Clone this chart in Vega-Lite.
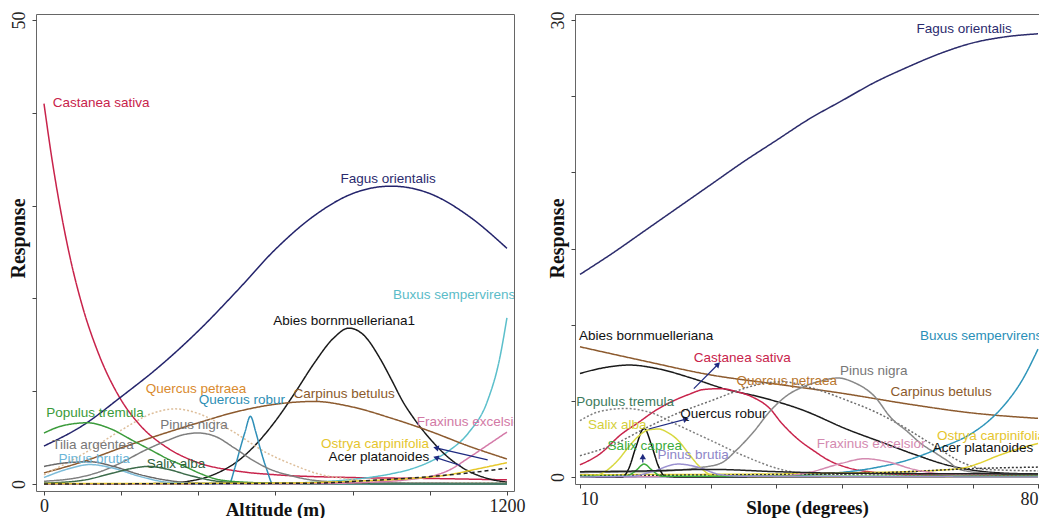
{
"$schema": "https://vega.github.io/schema/vega-lite/v6.json",
"background": "white",
"padding": {"left": 7, "top": 10, "right": 0, "bottom": 0},
"autosize": {"type": "pad"},
"bounds": "flush",
"spacing": 61,
"config": {
  "view": {"stroke": "#666", "strokeWidth": 1},
  "axis": {"grid": false, "domain": false, "tickColor": "#444", "tickSize": 4, "labelFont": "Liberation Serif", "labelFontSize": 18, "labelColor": "#222", "titleFont": "Liberation Serif", "titleFontSize": 20, "titleFontWeight": "bold", "titleColor": "#111"},
  "text": {"font": "Liberation Sans", "fontSize": 13.5}
},
"datasets": {
  "curves": [
{"p":"A","s":"Castanea sativa","x":0,"y":41},{"p":"A","s":"Castanea sativa","x":20,"y":35.2},{"p":"A","s":"Castanea sativa","x":40,"y":30.2},{"p":"A","s":"Castanea sativa","x":65,"y":24.9},{"p":"A","s":"Castanea sativa","x":100,"y":19.1},{"p":"A","s":"Castanea sativa","x":140,"y":14.2},{"p":"A","s":"Castanea sativa","x":195,"y":9.4},{"p":"A","s":"Castanea sativa","x":250,"y":6.3},{"p":"A","s":"Castanea sativa","x":320,"y":3.9},{"p":"A","s":"Castanea sativa","x":400,"y":2.3},{"p":"A","s":"Castanea sativa","x":500,"y":1.4},{"p":"A","s":"Castanea sativa","x":600,"y":1.0},{"p":"A","s":"Castanea sativa","x":800,"y":0.7},{"p":"A","s":"Castanea sativa","x":1000,"y":0.6},{"p":"A","s":"Castanea sativa","x":1200,"y":0.45},
{"p":"A","s":"Fagus orientalis","x":0,"y":4.1},{"p":"A","s":"Fagus orientalis","x":100,"y":6.3},{"p":"A","s":"Fagus orientalis","x":200,"y":9.4},{"p":"A","s":"Fagus orientalis","x":300,"y":12.7},{"p":"A","s":"Fagus orientalis","x":400,"y":16.5},{"p":"A","s":"Fagus orientalis","x":500,"y":20.8},{"p":"A","s":"Fagus orientalis","x":600,"y":25.3},{"p":"A","s":"Fagus orientalis","x":700,"y":28.9},{"p":"A","s":"Fagus orientalis","x":800,"y":31.3},{"p":"A","s":"Fagus orientalis","x":900,"y":32.1},{"p":"A","s":"Fagus orientalis","x":1000,"y":31.3},{"p":"A","s":"Fagus orientalis","x":1100,"y":28.9},{"p":"A","s":"Fagus orientalis","x":1200,"y":25.4},
{"p":"A","s":"Buxus sempervirens","x":0,"y":0.05},{"p":"A","s":"Buxus sempervirens","x":300,"y":0},{"p":"A","s":"Buxus sempervirens","x":600,"y":0.05},{"p":"A","s":"Buxus sempervirens","x":700,"y":0.2},{"p":"A","s":"Buxus sempervirens","x":800,"y":0.5},{"p":"A","s":"Buxus sempervirens","x":900,"y":1.1},{"p":"A","s":"Buxus sempervirens","x":950,"y":1.6},{"p":"A","s":"Buxus sempervirens","x":1000,"y":2.4},{"p":"A","s":"Buxus sempervirens","x":1050,"y":3.6},{"p":"A","s":"Buxus sempervirens","x":1100,"y":5.5},{"p":"A","s":"Buxus sempervirens","x":1150,"y":9.0},{"p":"A","s":"Buxus sempervirens","x":1180,"y":13.3},{"p":"A","s":"Buxus sempervirens","x":1200,"y":17.9},
{"p":"A","s":"Abies bornmuelleriana","x":0,"y":0},{"p":"A","s":"Abies bornmuelleriana","x":300,"y":0.05},{"p":"A","s":"Abies bornmuelleriana","x":400,"y":0.5},{"p":"A","s":"Abies bornmuelleriana","x":450,"y":1.2},{"p":"A","s":"Abies bornmuelleriana","x":500,"y":2.4},{"p":"A","s":"Abies bornmuelleriana","x":550,"y":4.3},{"p":"A","s":"Abies bornmuelleriana","x":600,"y":6.8},{"p":"A","s":"Abies bornmuelleriana","x":650,"y":9.8},{"p":"A","s":"Abies bornmuelleriana","x":700,"y":13},{"p":"A","s":"Abies bornmuelleriana","x":750,"y":15.7},{"p":"A","s":"Abies bornmuelleriana","x":790,"y":16.8},{"p":"A","s":"Abies bornmuelleriana","x":830,"y":16.0},{"p":"A","s":"Abies bornmuelleriana","x":870,"y":13.6},{"p":"A","s":"Abies bornmuelleriana","x":900,"y":11.3},{"p":"A","s":"Abies bornmuelleriana","x":930,"y":8.9},{"p":"A","s":"Abies bornmuelleriana","x":960,"y":7.0},{"p":"A","s":"Abies bornmuelleriana","x":1000,"y":4.9},{"p":"A","s":"Abies bornmuelleriana","x":1050,"y":2.8},{"p":"A","s":"Abies bornmuelleriana","x":1100,"y":1.4},{"p":"A","s":"Abies bornmuelleriana","x":1150,"y":0.6},{"p":"A","s":"Abies bornmuelleriana","x":1200,"y":0.2},
{"p":"A","s":"Carpinus betulus","x":0,"y":1.2},{"p":"A","s":"Carpinus betulus","x":100,"y":2.4},{"p":"A","s":"Carpinus betulus","x":200,"y":3.9},{"p":"A","s":"Carpinus betulus","x":300,"y":5.3},{"p":"A","s":"Carpinus betulus","x":400,"y":6.6},{"p":"A","s":"Carpinus betulus","x":500,"y":7.8},{"p":"A","s":"Carpinus betulus","x":600,"y":8.6},{"p":"A","s":"Carpinus betulus","x":700,"y":8.9},{"p":"A","s":"Carpinus betulus","x":800,"y":8.3},{"p":"A","s":"Carpinus betulus","x":900,"y":7.1},{"p":"A","s":"Carpinus betulus","x":1000,"y":5.7},{"p":"A","s":"Carpinus betulus","x":1100,"y":4.1},{"p":"A","s":"Carpinus betulus","x":1200,"y":2.7},
{"p":"A","s":"Quercus petraea","x":0,"y":1.0},{"p":"A","s":"Quercus petraea","x":100,"y":3.2},{"p":"A","s":"Quercus petraea","x":200,"y":5.8},{"p":"A","s":"Quercus petraea","x":280,"y":7.6},{"p":"A","s":"Quercus petraea","x":340,"y":8.1},{"p":"A","s":"Quercus petraea","x":400,"y":7.6},{"p":"A","s":"Quercus petraea","x":480,"y":5.9},{"p":"A","s":"Quercus petraea","x":580,"y":3.3},{"p":"A","s":"Quercus petraea","x":650,"y":2.0},{"p":"A","s":"Quercus petraea","x":710,"y":1.1},{"p":"A","s":"Quercus petraea","x":800,"y":0.5},{"p":"A","s":"Quercus petraea","x":900,"y":0.2},{"p":"A","s":"Quercus petraea","x":1000,"y":0.1},{"p":"A","s":"Quercus petraea","x":1200,"y":0.1},
{"p":"A","s":"Quercus robur","x":0,"y":0},{"p":"A","s":"Quercus robur","x":470,"y":0},{"p":"A","s":"Quercus robur","x":480,"y":0.02},{"p":"A","s":"Quercus robur","x":493,"y":1.5},{"p":"A","s":"Quercus robur","x":507,"y":3.6},{"p":"A","s":"Quercus robur","x":521,"y":5.6},{"p":"A","s":"Quercus robur","x":535,"y":7.3},{"p":"A","s":"Quercus robur","x":549,"y":5.6},{"p":"A","s":"Quercus robur","x":562,"y":3.6},{"p":"A","s":"Quercus robur","x":578,"y":1.5},{"p":"A","s":"Quercus robur","x":593,"y":0.02},{"p":"A","s":"Quercus robur","x":605,"y":0},{"p":"A","s":"Quercus robur","x":1200,"y":0},
{"p":"A","s":"Populus tremula","x":0,"y":5.5},{"p":"A","s":"Populus tremula","x":50,"y":6.3},{"p":"A","s":"Populus tremula","x":113,"y":6.6},{"p":"A","s":"Populus tremula","x":170,"y":6.0},{"p":"A","s":"Populus tremula","x":234,"y":4.6},{"p":"A","s":"Populus tremula","x":280,"y":3.6},{"p":"A","s":"Populus tremula","x":321,"y":2.7},{"p":"A","s":"Populus tremula","x":360,"y":2.0},{"p":"A","s":"Populus tremula","x":407,"y":1.1},{"p":"A","s":"Populus tremula","x":450,"y":0.5},{"p":"A","s":"Populus tremula","x":520,"y":0.2},{"p":"A","s":"Populus tremula","x":600,"y":0.1},{"p":"A","s":"Populus tremula","x":800,"y":0.05},{"p":"A","s":"Populus tremula","x":1200,"y":0.05},
{"p":"A","s":"Pinus nigra","x":0,"y":0.3},{"p":"A","s":"Pinus nigra","x":100,"y":0.8},{"p":"A","s":"Pinus nigra","x":150,"y":1.4},{"p":"A","s":"Pinus nigra","x":200,"y":2.3},{"p":"A","s":"Pinus nigra","x":260,"y":3.6},{"p":"A","s":"Pinus nigra","x":320,"y":4.7},{"p":"A","s":"Pinus nigra","x":360,"y":5.3},{"p":"A","s":"Pinus nigra","x":398,"y":5.5},{"p":"A","s":"Pinus nigra","x":440,"y":5.2},{"p":"A","s":"Pinus nigra","x":493,"y":3.9},{"p":"A","s":"Pinus nigra","x":540,"y":2.6},{"p":"A","s":"Pinus nigra","x":580,"y":1.7},{"p":"A","s":"Pinus nigra","x":640,"y":0.9},{"p":"A","s":"Pinus nigra","x":700,"y":0.4},{"p":"A","s":"Pinus nigra","x":800,"y":0.15},{"p":"A","s":"Pinus nigra","x":1200,"y":0.05},
{"p":"A","s":"Tilia argentea","x":0,"y":1.9},{"p":"A","s":"Tilia argentea","x":60,"y":2.3},{"p":"A","s":"Tilia argentea","x":120,"y":2.4},{"p":"A","s":"Tilia argentea","x":180,"y":1.9},{"p":"A","s":"Tilia argentea","x":250,"y":1.0},{"p":"A","s":"Tilia argentea","x":320,"y":0.4},{"p":"A","s":"Tilia argentea","x":400,"y":0.1},{"p":"A","s":"Tilia argentea","x":600,"y":0.05},{"p":"A","s":"Tilia argentea","x":1200,"y":0.05},
{"p":"A","s":"Pinus brutia","x":0,"y":0.7},{"p":"A","s":"Pinus brutia","x":60,"y":1.6},{"p":"A","s":"Pinus brutia","x":120,"y":2.1},{"p":"A","s":"Pinus brutia","x":180,"y":1.7},{"p":"A","s":"Pinus brutia","x":250,"y":0.8},{"p":"A","s":"Pinus brutia","x":320,"y":0.2},{"p":"A","s":"Pinus brutia","x":400,"y":0.05},{"p":"A","s":"Pinus brutia","x":1200,"y":0},
{"p":"A","s":"Salix alba","x":0,"y":0.1},{"p":"A","s":"Salix alba","x":100,"y":0.4},{"p":"A","s":"Salix alba","x":180,"y":1.2},{"p":"A","s":"Salix alba","x":230,"y":1.7},{"p":"A","s":"Salix alba","x":270,"y":1.9},{"p":"A","s":"Salix alba","x":320,"y":1.6},{"p":"A","s":"Salix alba","x":380,"y":0.9},{"p":"A","s":"Salix alba","x":450,"y":0.3},{"p":"A","s":"Salix alba","x":550,"y":0.05},{"p":"A","s":"Salix alba","x":1200,"y":0},
{"p":"A","s":"Fraxinus excelsior","x":0,"y":0},{"p":"A","s":"Fraxinus excelsior","x":700,"y":0.05},{"p":"A","s":"Fraxinus excelsior","x":850,"y":0.2},{"p":"A","s":"Fraxinus excelsior","x":950,"y":0.5},{"p":"A","s":"Fraxinus excelsior","x":1000,"y":0.8},{"p":"A","s":"Fraxinus excelsior","x":1050,"y":1.5},{"p":"A","s":"Fraxinus excelsior","x":1100,"y":2.8},{"p":"A","s":"Fraxinus excelsior","x":1150,"y":4.2},{"p":"A","s":"Fraxinus excelsior","x":1200,"y":5.6},
{"p":"A","s":"Ostrya carpinifolia","x":0,"y":0.05},{"p":"A","s":"Ostrya carpinifolia","x":600,"y":0.1},{"p":"A","s":"Ostrya carpinifolia","x":800,"y":0.3},{"p":"A","s":"Ostrya carpinifolia","x":950,"y":0.6},{"p":"A","s":"Ostrya carpinifolia","x":1050,"y":1.0},{"p":"A","s":"Ostrya carpinifolia","x":1120,"y":1.6},{"p":"A","s":"Ostrya carpinifolia","x":1200,"y":2.3},
{"p":"A","s":"Acer platanoides","x":0,"y":0},{"p":"A","s":"Acer platanoides","x":700,"y":0.1},{"p":"A","s":"Acer platanoides","x":850,"y":0.4},{"p":"A","s":"Acer platanoides","x":1000,"y":0.8},{"p":"A","s":"Acer platanoides","x":1100,"y":1.2},{"p":"A","s":"Acer platanoides","x":1200,"y":1.7},

{"p":"B","s":"Fagus orientalis","x":10,"y":13.3},{"p":"B","s":"Fagus orientalis","x":15,"y":14.7},{"p":"B","s":"Fagus orientalis","x":20,"y":16.2},{"p":"B","s":"Fagus orientalis","x":25,"y":17.7},{"p":"B","s":"Fagus orientalis","x":30,"y":19.2},{"p":"B","s":"Fagus orientalis","x":35,"y":20.7},{"p":"B","s":"Fagus orientalis","x":40,"y":22.1},{"p":"B","s":"Fagus orientalis","x":45,"y":23.5},{"p":"B","s":"Fagus orientalis","x":50,"y":24.7},{"p":"B","s":"Fagus orientalis","x":55,"y":25.9},{"p":"B","s":"Fagus orientalis","x":60,"y":26.9},{"p":"B","s":"Fagus orientalis","x":65,"y":27.8},{"p":"B","s":"Fagus orientalis","x":70,"y":28.5},{"p":"B","s":"Fagus orientalis","x":75,"y":28.9},{"p":"B","s":"Fagus orientalis","x":80,"y":29.1},
{"p":"B","s":"Carpinus betulus","x":10,"y":8.55},{"p":"B","s":"Carpinus betulus","x":20,"y":7.6},{"p":"B","s":"Carpinus betulus","x":30,"y":6.7},{"p":"B","s":"Carpinus betulus","x":40,"y":6.1},{"p":"B","s":"Carpinus betulus","x":50,"y":5.5},{"p":"B","s":"Carpinus betulus","x":60,"y":4.8},{"p":"B","s":"Carpinus betulus","x":70,"y":4.2},{"p":"B","s":"Carpinus betulus","x":80,"y":3.85},
{"p":"B","s":"Abies bornmuelleriana","x":10,"y":6.8},{"p":"B","s":"Abies bornmuelleriana","x":14,"y":7.2},{"p":"B","s":"Abies bornmuelleriana","x":17.5,"y":7.35},{"p":"B","s":"Abies bornmuelleriana","x":22,"y":7.1},{"p":"B","s":"Abies bornmuelleriana","x":27,"y":6.5},{"p":"B","s":"Abies bornmuelleriana","x":32,"y":5.8},{"p":"B","s":"Abies bornmuelleriana","x":38,"y":5.2},{"p":"B","s":"Abies bornmuelleriana","x":44,"y":4.4},{"p":"B","s":"Abies bornmuelleriana","x":51,"y":3.1},{"p":"B","s":"Abies bornmuelleriana","x":56,"y":2.3},{"p":"B","s":"Abies bornmuelleriana","x":61,"y":1.5},{"p":"B","s":"Abies bornmuelleriana","x":66,"y":0.8},{"p":"B","s":"Abies bornmuelleriana","x":70,"y":0.45},{"p":"B","s":"Abies bornmuelleriana","x":75,"y":0.25},{"p":"B","s":"Abies bornmuelleriana","x":80,"y":0.2},
{"p":"B","s":"Castanea sativa","x":10,"y":0.8},{"p":"B","s":"Castanea sativa","x":13,"y":1.5},{"p":"B","s":"Castanea sativa","x":16.3,"y":2.8},{"p":"B","s":"Castanea sativa","x":19,"y":3.6},{"p":"B","s":"Castanea sativa","x":21.3,"y":4.3},{"p":"B","s":"Castanea sativa","x":26.5,"y":5.4},{"p":"B","s":"Castanea sativa","x":29,"y":5.75},{"p":"B","s":"Castanea sativa","x":31.5,"y":5.8},{"p":"B","s":"Castanea sativa","x":34,"y":5.6},{"p":"B","s":"Castanea sativa","x":36.6,"y":5.2},{"p":"B","s":"Castanea sativa","x":39,"y":4.5},{"p":"B","s":"Castanea sativa","x":40.7,"y":3.6},{"p":"B","s":"Castanea sativa","x":43,"y":2.6},{"p":"B","s":"Castanea sativa","x":45.8,"y":1.7},{"p":"B","s":"Castanea sativa","x":48,"y":1.1},{"p":"B","s":"Castanea sativa","x":51,"y":0.6},{"p":"B","s":"Castanea sativa","x":55,"y":0.3},{"p":"B","s":"Castanea sativa","x":60,"y":0.15},{"p":"B","s":"Castanea sativa","x":80,"y":0.1},
{"p":"B","s":"Quercus petraea","x":10,"y":1.4},{"p":"B","s":"Quercus petraea","x":15,"y":2.1},{"p":"B","s":"Quercus petraea","x":20,"y":3.2},{"p":"B","s":"Quercus petraea","x":25,"y":4.2},{"p":"B","s":"Quercus petraea","x":30,"y":5.0},{"p":"B","s":"Quercus petraea","x":35,"y":5.8},{"p":"B","s":"Quercus petraea","x":38,"y":6.15},{"p":"B","s":"Quercus petraea","x":41,"y":6.25},{"p":"B","s":"Quercus petraea","x":45,"y":5.9},{"p":"B","s":"Quercus petraea","x":51,"y":5.0},{"p":"B","s":"Quercus petraea","x":55,"y":4.3},{"p":"B","s":"Quercus petraea","x":58.6,"y":3.5},{"p":"B","s":"Quercus petraea","x":63.6,"y":2.2},{"p":"B","s":"Quercus petraea","x":68.7,"y":0.9},{"p":"B","s":"Quercus petraea","x":72,"y":0.5},{"p":"B","s":"Quercus petraea","x":80,"y":0.4},
{"p":"B","s":"Populus tremula","x":10,"y":3.7},{"p":"B","s":"Populus tremula","x":13,"y":4.3},{"p":"B","s":"Populus tremula","x":17,"y":4.5},{"p":"B","s":"Populus tremula","x":21,"y":4.2},{"p":"B","s":"Populus tremula","x":25,"y":3.4},{"p":"B","s":"Populus tremula","x":30,"y":2.4},{"p":"B","s":"Populus tremula","x":35,"y":1.4},{"p":"B","s":"Populus tremula","x":40.7,"y":0.5},{"p":"B","s":"Populus tremula","x":45,"y":0.2},{"p":"B","s":"Populus tremula","x":80,"y":0.1},
{"p":"B","s":"Pinus nigra","x":10,"y":0.3},{"p":"B","s":"Pinus nigra","x":20,"y":0.35},{"p":"B","s":"Pinus nigra","x":25,"y":0.45},{"p":"B","s":"Pinus nigra","x":28,"y":0.6},{"p":"B","s":"Pinus nigra","x":31.5,"y":0.9},{"p":"B","s":"Pinus nigra","x":34,"y":1.8},{"p":"B","s":"Pinus nigra","x":36.6,"y":3.0},{"p":"B","s":"Pinus nigra","x":39,"y":4.3},{"p":"B","s":"Pinus nigra","x":41.8,"y":5.4},{"p":"B","s":"Pinus nigra","x":44,"y":5.9},{"p":"B","s":"Pinus nigra","x":46.8,"y":6.3},{"p":"B","s":"Pinus nigra","x":49.4,"y":6.5},{"p":"B","s":"Pinus nigra","x":51.9,"y":6.2},{"p":"B","s":"Pinus nigra","x":55,"y":5.3},{"p":"B","s":"Pinus nigra","x":57.5,"y":3.9},{"p":"B","s":"Pinus nigra","x":60,"y":3.0},{"p":"B","s":"Pinus nigra","x":62.1,"y":2.2},{"p":"B","s":"Pinus nigra","x":64.6,"y":1.5},{"p":"B","s":"Pinus nigra","x":66.2,"y":1.05},{"p":"B","s":"Pinus nigra","x":68,"y":0.5},{"p":"B","s":"Pinus nigra","x":72,"y":0.25},{"p":"B","s":"Pinus nigra","x":80,"y":0.15},
{"p":"B","s":"Buxus sempervirens","x":10,"y":0},{"p":"B","s":"Buxus sempervirens","x":40,"y":0.05},{"p":"B","s":"Buxus sempervirens","x":45,"y":0.15},{"p":"B","s":"Buxus sempervirens","x":50,"y":0.3},{"p":"B","s":"Buxus sempervirens","x":55,"y":0.6},{"p":"B","s":"Buxus sempervirens","x":60,"y":1.1},{"p":"B","s":"Buxus sempervirens","x":65,"y":1.9},{"p":"B","s":"Buxus sempervirens","x":70,"y":2.9},{"p":"B","s":"Buxus sempervirens","x":72.5,"y":3.7},{"p":"B","s":"Buxus sempervirens","x":75,"y":4.8},{"p":"B","s":"Buxus sempervirens","x":77.5,"y":6.3},{"p":"B","s":"Buxus sempervirens","x":80,"y":8.4},
{"p":"B","s":"Ostrya carpinifolia","x":10,"y":0.15},{"p":"B","s":"Ostrya carpinifolia","x":40,"y":0.2},{"p":"B","s":"Ostrya carpinifolia","x":55,"y":0.3},{"p":"B","s":"Ostrya carpinifolia","x":60,"y":0.35},{"p":"B","s":"Ostrya carpinifolia","x":65,"y":0.45},{"p":"B","s":"Ostrya carpinifolia","x":68.7,"y":0.6},{"p":"B","s":"Ostrya carpinifolia","x":71,"y":0.9},{"p":"B","s":"Ostrya carpinifolia","x":73.9,"y":1.4},{"p":"B","s":"Ostrya carpinifolia","x":77,"y":1.85},{"p":"B","s":"Ostrya carpinifolia","x":80,"y":2.2},
{"p":"B","s":"Acer platanoides","x":10,"y":0.1},{"p":"B","s":"Acer platanoides","x":50,"y":0.2},{"p":"B","s":"Acer platanoides","x":60,"y":0.35},{"p":"B","s":"Acer platanoides","x":70,"y":0.55},{"p":"B","s":"Acer platanoides","x":80,"y":0.65},
{"p":"B","s":"Fraxinus excelsior","x":10,"y":0},{"p":"B","s":"Fraxinus excelsior","x":40,"y":0.05},{"p":"B","s":"Fraxinus excelsior","x":45,"y":0.3},{"p":"B","s":"Fraxinus excelsior","x":50,"y":0.9},{"p":"B","s":"Fraxinus excelsior","x":53.5,"y":1.2},{"p":"B","s":"Fraxinus excelsior","x":57,"y":1.0},{"p":"B","s":"Fraxinus excelsior","x":61,"y":0.5},{"p":"B","s":"Fraxinus excelsior","x":65,"y":0.2},{"p":"B","s":"Fraxinus excelsior","x":70,"y":0.05},{"p":"B","s":"Fraxinus excelsior","x":80,"y":0},
{"p":"B","s":"Quercus robur","x":10,"y":0},{"p":"B","s":"Quercus robur","x":16.5,"y":0},{"p":"B","s":"Quercus robur","x":17.5,"y":0.6},{"p":"B","s":"Quercus robur","x":18.5,"y":1.9},{"p":"B","s":"Quercus robur","x":19.8,"y":3.2},{"p":"B","s":"Quercus robur","x":21,"y":2.0},{"p":"B","s":"Quercus robur","x":22,"y":0.7},{"p":"B","s":"Quercus robur","x":23,"y":0.05},{"p":"B","s":"Quercus robur","x":25,"y":0},{"p":"B","s":"Quercus robur","x":80,"y":0},
{"p":"B","s":"Salix alba","x":10,"y":0},{"p":"B","s":"Salix alba","x":12,"y":0.05},{"p":"B","s":"Salix alba","x":14,"y":0.4},{"p":"B","s":"Salix alba","x":16,"y":1.2},{"p":"B","s":"Salix alba","x":17.3,"y":1.9},{"p":"B","s":"Salix alba","x":19,"y":2.7},{"p":"B","s":"Salix alba","x":20.5,"y":3.1},{"p":"B","s":"Salix alba","x":22,"y":3.15},{"p":"B","s":"Salix alba","x":23.5,"y":2.9},{"p":"B","s":"Salix alba","x":25,"y":2.4},{"p":"B","s":"Salix alba","x":26.5,"y":1.6},{"p":"B","s":"Salix alba","x":27.5,"y":1.05},{"p":"B","s":"Salix alba","x":29,"y":0.4},{"p":"B","s":"Salix alba","x":30.5,"y":0.05},{"p":"B","s":"Salix alba","x":80,"y":0},
{"p":"B","s":"Salix caprea","x":10,"y":0.05},{"p":"B","s":"Salix caprea","x":17,"y":0.05},{"p":"B","s":"Salix caprea","x":18.5,"y":0.4},{"p":"B","s":"Salix caprea","x":19.8,"y":0.85},{"p":"B","s":"Salix caprea","x":21,"y":0.45},{"p":"B","s":"Salix caprea","x":22.5,"y":0.05},{"p":"B","s":"Salix caprea","x":80,"y":0.05},
{"p":"B","s":"Pinus brutia","x":10,"y":0},{"p":"B","s":"Pinus brutia","x":18,"y":0.05},{"p":"B","s":"Pinus brutia","x":21,"y":0.35},{"p":"B","s":"Pinus brutia","x":25,"y":0.85},{"p":"B","s":"Pinus brutia","x":28,"y":0.65},{"p":"B","s":"Pinus brutia","x":31.5,"y":0.15},{"p":"B","s":"Pinus brutia","x":35,"y":0.05},{"p":"B","s":"Pinus brutia","x":80,"y":0},
{"p":"B","s":"Tilia argentea","x":10,"y":0.35},{"p":"B","s":"Tilia argentea","x":20,"y":0.4},{"p":"B","s":"Tilia argentea","x":30,"y":0.5},{"p":"B","s":"Tilia argentea","x":40,"y":0.35},{"p":"B","s":"Tilia argentea","x":50,"y":0.25},{"p":"B","s":"Tilia argentea","x":80,"y":0.2}
  ],
  "labels": [
{"p":"A","t":"Castanea sativa","x":148,"y":41.1},
{"p":"A","t":"Fagus orientalis","x":892,"y":32.9},
{"p":"A","t":"Buxus sempervirens","x":1063,"y":20.4},
{"p":"A","t":"Abies bornmuelleriana1","x":778,"y":17.6},
{"p":"A","t":"Quercus petraea","x":394,"y":10.2},
{"p":"A","t":"Quercus robur","x":513,"y":9.05},
{"p":"A","t":"Carpinus betulus","x":778,"y":9.7},
{"p":"A","t":"Populus tremula","x":132,"y":7.65},
{"p":"A","t":"Pinus nigra","x":389,"y":6.36},
{"p":"A","t":"Fraxinus excelsior","x":1107,"y":6.68},
{"p":"A","t":"Tilia argentea","x":127,"y":4.2},
{"p":"A","t":"Ostrya carpinifolia","x":858,"y":4.31},
{"p":"A","t":"Pinus brutia","x":130,"y":2.69},
{"p":"A","t":"Salix alba","x":342,"y":2.16},
{"p":"A","t":"Acer platanoides","x":868,"y":2.91},
{"p":"B","t":"Fagus orientalis","x":68.7,"y":29.4},
{"p":"B","t":"Abies bornmuelleriana","x":20.1,"y":9.26},
{"p":"B","t":"Buxus sempervirens","x":71.3,"y":9.26},
{"p":"B","t":"Castanea sativa","x":34.8,"y":7.81},
{"p":"B","t":"Pinus nigra","x":54.9,"y":6.96},
{"p":"B","t":"Quercus petraea","x":41.6,"y":6.3},
{"p":"B","t":"Carpinus betulus","x":65.2,"y":5.58},
{"p":"B","t":"Populus tremula","x":16.9,"y":4.92},
{"p":"B","t":"Quercus robur","x":31.9,"y":4.14},
{"p":"B","t":"Salix alba","x":15.7,"y":3.41},
{"p":"B","t":"Ostrya carpinifolia","x":72.8,"y":2.69},
{"p":"B","t":"Salix caprea","x":19.9,"y":2.04},
{"p":"B","t":"Fraxinus excelsior","x":54.5,"y":2.17},
{"p":"B","t":"Acer platanoides","x":71.6,"y":1.9},
{"p":"B","t":"Pinus brutia","x":27.3,"y":1.44}
  ],
  "arrows": [
{"p":"A","x":1016,"y":3.9,"x1":1150,"y1":2.6},
{"p":"A","x":1016,"y":2.85,"x1":1080,"y1":2.0},
{"p":"B","x":31.1,"y":7.4,"x1":27.4,"y1":5.8},
{"p":"B","x":26.2,"y":3.8,"x1":20.5,"y1":3.15},
{"p":"B","x":19.6,"y":1.35,"x1":19.6,"y1":0.95}
  ]
},
"hconcat": [
{
  "width": 478, "height": 477,
  "encoding": {
    "x": {"field": "x", "type": "quantitative", "title": "Altitude (m)",
      "scale": {"domain": [-20.7, 1218.3], "nice": false, "zero": false},
      "axis": {"values": [0,200,400,600,800,1000,1200], "format": "d", "labelExpr": "datum.value == 0 || datum.value == 1200 ? datum.label : ''", "labelFlush": false, "labelPadding": 2, "titleBaseline": "top", "titleY": 9, "titleFontSize": 19}},
    "y": {"field": "y", "type": "quantitative", "title": "Response",
      "scale": {"domain": [-0.75, 50.65], "nice": false, "zero": false},
      "axis": {"values": [0,10,20,30,40,50], "labelExpr": "datum.value == 0 || datum.value == 50 ? datum.label : ''", "labelAngle": 270, "labelAlign": "center", "labelBaseline": "bottom", "labelPadding": 4, "labelFlush": false, "titleAngle": 270, "titleX": -18, "titleY": 224, "titleAlign": "center", "titleBaseline": "middle"}}
  },
  "layer": [
    {"data": {"name": "curves"}, "transform": [{"filter": "datum.p === 'A'"}],
     "mark": {"type": "line", "interpolate": "monotone", "strokeWidth": 1.5, "clip": true},
     "encoding": {
       "detail": {"field": "s"},
       "color": {"field": "s", "type": "nominal", "legend": null, "scale": {
         "domain": ["Castanea sativa","Fagus orientalis","Buxus sempervirens","Abies bornmuelleriana","Carpinus betulus","Quercus petraea","Quercus robur","Populus tremula","Pinus nigra","Tilia argentea","Pinus brutia","Salix alba","Fraxinus excelsior","Ostrya carpinifolia","Acer platanoides"],
         "range": ["#C8234B","#23236B","#5BBFCB","#1A1A1A","#8C5A2E","#DDBE9A","#2F8FB8","#3B9B3B","#7E7E7E","#6A6A6A","#7BBBD8","#3C6B4A","#D47AA8","#E6C82A","#222222"]}},
       "strokeDash": {"field": "s", "type": "nominal", "legend": null, "scale": {
         "domain": ["Castanea sativa","Fagus orientalis","Buxus sempervirens","Abies bornmuelleriana","Carpinus betulus","Quercus petraea","Quercus robur","Populus tremula","Pinus nigra","Tilia argentea","Pinus brutia","Salix alba","Fraxinus excelsior","Ostrya carpinifolia","Acer platanoides"],
         "range": [[1,0],[1,0],[1,0],[1,0],[1,0],[2,2],[1,0],[1,0],[1,0],[1,0],[1,0],[1,0],[1,0],[1,0],[4,3]]}}
     }},
    {"data": {"name": "arrows"}, "transform": [{"filter": "datum.p === 'A'"}],
     "mark": {"type": "rule", "color": "#1F2A80", "strokeWidth": 1.2},
     "encoding": {"x2": {"field": "x1"}, "y2": {"field": "y1"}}},
    {"data": {"name": "arrows"}, "transform": [{"filter": "datum.p === 'A'"}, {"calculate": "atan2((datum.x - datum.x1) * 0.3858, (datum.y - datum.y1) * 9.28) * 180 / PI", "as": "ang"}],
     "mark": {"type": "point", "shape": "triangle-up", "filled": true, "color": "#1F2A80", "size": 40, "opacity": 1},
     "encoding": {"angle": {"field": "ang", "type": "quantitative", "scale": null}}},
    {"data": {"name": "labels"}, "transform": [{"filter": "datum.p === 'A'"}],
     "mark": {"type": "text", "clip": true, "align": "center", "baseline": "middle"},
     "encoding": {
       "text": {"field": "t"},
       "color": {"field": "t", "type": "nominal", "legend": null, "scale": {
         "domain": ["Castanea sativa","Fagus orientalis","Buxus sempervirens","Abies bornmuelleriana1","Quercus petraea","Quercus robur","Carpinus betulus","Populus tremula","Pinus nigra","Fraxinus excelsior","Tilia argentea","Ostrya carpinifolia","Pinus brutia","Salix alba","Acer platanoides"],
         "range": ["#C8234B","#2B2B6E","#5BBCC8","#111111","#D98A2E","#2E8FB5","#8B5A2B","#3A9A3A","#777777","#D27AA5","#777777","#E5C52E","#6BB5D8","#2E5E3A","#111111"]}}
     }}
  ],
  "resolve": {"scale": {"color": "independent"}}
},
{
  "width": 464, "height": 470,
  "encoding": {
    "x": {"field": "x", "type": "quantitative", "title": "Slope (degrees)",
      "scale": {"domain": [9.24, 80.15], "nice": false, "zero": false},
      "axis": {"values": [10,20,30,40,50,60,70,80], "labelExpr": "datum.value == 10 || datum.value == 80 ? datum.label : ''", "labelFlush": 6, "labelPadding": 2, "titleBaseline": "top", "titleY": 14, "titleFontSize": 19}},
    "y": {"field": "y", "type": "quantitative", "title": "Response",
      "scale": {"domain": [-0.46, 30.4], "nice": false, "zero": false},
      "axis": {"values": [0,5,10,15,20,25,30], "labelExpr": "datum.value == 0 || datum.value == 30 ? datum.label : ''", "labelAngle": 270, "labelAlign": "center", "labelBaseline": "bottom", "labelPadding": 4, "labelFlush": false, "titleAngle": 270, "titleX": -18, "titleY": 224, "titleAlign": "center", "titleBaseline": "middle"}}
  },
  "layer": [
    {"data": {"name": "curves"}, "transform": [{"filter": "datum.p === 'B'"}],
     "mark": {"type": "line", "interpolate": "monotone", "strokeWidth": 1.5, "clip": true},
     "encoding": {
       "detail": {"field": "s"},
       "color": {"field": "s", "type": "nominal", "legend": null, "scale": {
         "domain": ["Fagus orientalis","Carpinus betulus","Abies bornmuelleriana","Castanea sativa","Quercus petraea","Populus tremula","Pinus nigra","Buxus sempervirens","Ostrya carpinifolia","Acer platanoides","Fraxinus excelsior","Quercus robur","Salix alba","Salix caprea","Pinus brutia","Tilia argentea"],
         "range": ["#2B2B6B","#8C5A2E","#1A1A1A","#C8234B","#6E6E6E","#808080","#888888","#2E95BA","#E0D030","#333333","#D48AB0","#111111","#D8D840","#3BAA3B","#9A90D0","#222222"]}},
       "strokeDash": {"field": "s", "type": "nominal", "legend": null, "scale": {
         "domain": ["Fagus orientalis","Carpinus betulus","Abies bornmuelleriana","Castanea sativa","Quercus petraea","Populus tremula","Pinus nigra","Buxus sempervirens","Ostrya carpinifolia","Acer platanoides","Fraxinus excelsior","Quercus robur","Salix alba","Salix caprea","Pinus brutia","Tilia argentea"],
         "range": [[1,0],[1,0],[1,0],[1,0],[2,2],[2,2],[1,0],[1,0],[1,0],[2,2],[1,0],[1,0],[1,0],[1,0],[1,0],[1,0]]}}
     }},
    {"data": {"name": "arrows"}, "transform": [{"filter": "datum.p === 'B'"}],
     "mark": {"type": "rule", "color": "#1F2A80", "strokeWidth": 1.2},
     "encoding": {"x2": {"field": "x1"}, "y2": {"field": "y1"}}},
    {"data": {"name": "arrows"}, "transform": [{"filter": "datum.p === 'B'"}, {"calculate": "atan2((datum.x - datum.x1) * 6.543, (datum.y - datum.y1) * 15.23) * 180 / PI", "as": "ang"}],
     "mark": {"type": "point", "shape": "triangle-up", "filled": true, "color": "#1F2A80", "size": 40, "opacity": 1},
     "encoding": {"angle": {"field": "ang", "type": "quantitative", "scale": null}}},
    {"data": {"name": "labels"}, "transform": [{"filter": "datum.p === 'B'"}],
     "mark": {"type": "text", "clip": true, "align": "center", "baseline": "middle"},
     "encoding": {
       "text": {"field": "t"},
       "color": {"field": "t", "type": "nominal", "legend": null, "scale": {
         "domain": ["Fagus orientalis","Abies bornmuelleriana","Buxus sempervirens","Castanea sativa","Pinus nigra","Quercus petraea","Carpinus betulus","Populus tremula","Quercus robur","Salix alba","Ostrya carpinifolia","Salix caprea","Fraxinus excelsior","Acer platanoides","Pinus brutia"],
         "range": ["#2B2B6E","#111111","#2A8FB8","#C8234B","#777777","#B8762E","#8B5A2B","#3D7A5C","#111111","#D4CF3A","#E5C52E","#3BAA3B","#D48AB0","#111111","#8E86C8"]}}
     }}
  ],
  "resolve": {"scale": {"color": "independent"}}
}
],
"resolve": {"scale": {"color": "independent", "strokeDash": "independent"}}
}
